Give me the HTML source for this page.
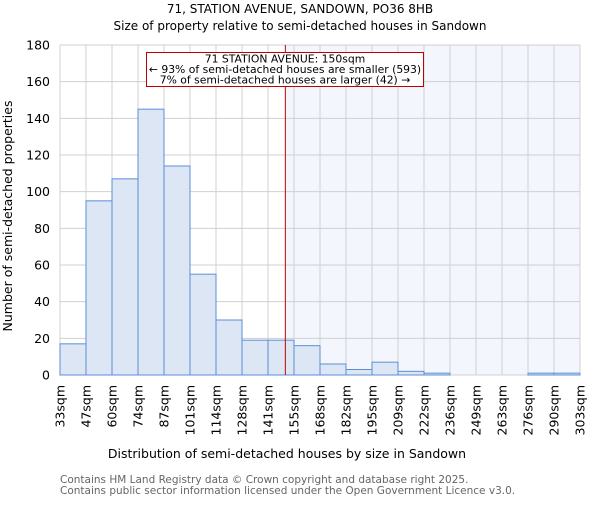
<!DOCTYPE html>
<html><head><meta charset="utf-8"><style>body{margin:0;background:#fff}svg text{font-family:"DejaVu Sans","Liberation Sans",sans-serif}</style></head>
<body>
<svg id="c" width="600" height="500">
<text x="300" y="13" text-anchor="middle" font-size="12">71, STATION AVENUE, SANDOWN, PO36 8HB</text>
<text x="300" y="30" text-anchor="middle" font-size="12">Size of property relative to semi-detached houses in Sandown</text>
<g id="grid"></g><g id="bars"></g><g id="axes"></g>
<text transform="translate(12,216) rotate(-90)" text-anchor="middle" font-size="12.5">Number of semi-detached properties</text>
<text x="287" y="458" text-anchor="middle" font-size="12.5">Distribution of semi-detached houses by size in Sandown</text>
<text x="60" y="483" font-size="10.5" fill="#666">Contains HM Land Registry data © Crown copyright and database right 2025.</text>
<text x="60" y="494" font-size="10.5" fill="#666">Contains public sector information licensed under the Open Government Licence v3.0.</text>
</svg>
<script>
const labels=["33sqm","47sqm","60sqm","74sqm","87sqm","101sqm","114sqm","128sqm","141sqm","155sqm","168sqm","182sqm","195sqm","209sqm","222sqm","236sqm","249sqm","263sqm","276sqm","290sqm","303sqm"];
const counts=[17,95,107,145,114,55,30,19,19,16,6,3,7,2,1,0,0,0,1,1];
const yTicks=[0,20,40,60,80,100,120,140,160,180];
const propSize=150, binStart=33, binWidth=13.5;
const NS="http://www.w3.org/2000/svg";
const L=60,R=580,T=45,B=375,yMax=180;
const bw=(R-L)/counts.length;
const xs=i=>L+i*bw, ys=v=>B-v/yMax*(B-T);
function mk(t,a,p){const e=document.createElementNS(NS,t);for(const k in a)e.setAttribute(k,a[k]);p.appendChild(e);return e;}
const g=document.getElementById('grid'),b=document.getElementById('bars'),ax=document.getElementById('axes');
const px=L+(propSize-binStart)/binWidth*bw;
const sh=mk('rect',{x:px,y:T,width:R-px,height:B-T,fill:'#eef2fb',opacity:0.7},g);


yTicks.forEach(v=>{
 const l=mk('line',{x1:L,x2:R,y1:ys(v),y2:ys(v),stroke:'#d0d0d0'},g);
 
 
 const t=mk('text',{x:L-10,y:ys(v)+4.5,'text-anchor':'end','font-size':12.5},ax);t.textContent=v;
 
 
});
labels.forEach((s,i)=>{
 const l=mk('line',{x1:xs(i),x2:xs(i),y1:T,y2:B,stroke:'#d0d0d0'},g);
 
 
 const t=mk('text',{transform:`translate(${xs(i)+4.5},${B+10}) rotate(-90)`,'text-anchor':'end','font-size':12.5},ax);t.textContent=s;
 
 
});
counts.forEach((v,i)=>{
 const r=mk('rect',{x:xs(i),y:ys(v),width:bw,height:B-ys(v),fill:'#dce6f4',stroke:'#5a8fd6','stroke-width':1},b);
 
 
});
const ln=mk('line',{x1:px,x2:px,y1:T,y2:B,stroke:'#c00000','stroke-width':1},ax);


const bx=mk('rect',{x:146.5,y:52.5,width:277,height:34,fill:'#fff',stroke:'#c00000'},ax);


["71 STATION AVENUE: 150sqm","← 93% of semi-detached houses are smaller (593)","7% of semi-detached houses are larger (42) →"].forEach((s,i)=>{
 const t=mk('text',{x:285,y:62.5+i*10.5,'text-anchor':'middle','font-size':10.8},ax);t.textContent=s;
 
 
});
</script>
</body></html>
